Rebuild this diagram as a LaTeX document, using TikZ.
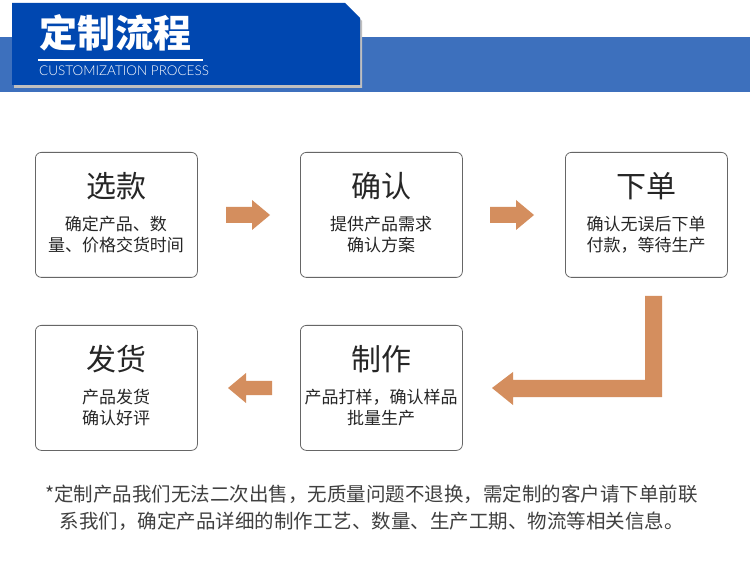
\documentclass[tikz,border=0pt]{standalone}
\usepackage{fontspec}
\setmainfont{Noto Sans CJK SC}
\newfontfamily\latinf{Lato Light}
\begin{document}
\begin{tikzpicture}[x=1pt,y=-1pt,
 box/.style={draw=black!60,line width=0.8pt,rounded corners=6pt,fill=white,minimum width=162pt,minimum height=125pt,anchor=north west},
 ttl/.style={font=\fontsize{30}{32}\selectfont,text=black!85},
 bdy/.style={font=\fontsize{17}{21}\selectfont,text=black!85,align=center}]
\definecolor{ar}{HTML}{D48E5E}
\definecolor{dblue}{HTML}{0047B0}
\definecolor{lblue}{HTML}{3D70BD}
\useasboundingbox (0,0) rectangle (750,577);
\fill[white] (0,0) rectangle (750,577);
\fill[lblue] (0,37) rectangle (750,92);
\fill[black!25] (14,6) -- (347,6) -- (362,21) -- (362,88) -- (14,88) -- cycle;
\fill[dblue] (12,3) -- (345,3) -- (360,18) -- (360,85) -- (12,85) -- cycle;
\node[anchor=west,text=white,font=\fontsize{38}{40}\selectfont\bfseries,inner sep=0] (t) at (39,33) {定制流程};
\draw[white,line width=1.3pt] (38,60) -- (203,60);
\node[anchor=west,text=white,font=\latinf\fontsize{13.5}{15}\selectfont,inner sep=0] (st) at (39,71) {CUSTOMIZATION PROCESS};
\foreach \n/\x/\y/\a/\b in {b1/35/152/选款/{确定产品、数\\量、价格交货时间},b2/300/152/确认/{提供产品需求\\确认方案},b3/565/152/下单/{确认无误后下单\\付款，等待生产},b4/35/325/发货/{产品发货\\确认好评},b5/300/325/制作/{产品打样，确认样品\\批量生产}}{
 \node[box] (\n) at (\x,\y) {};
 \node[ttl] (\n t) at (\x+81,\y+34) {\a};
 \node[bdy] (\n b) at (\x+81,\y+83) {\b};
}
\fill[ar] (226,207) -- (252,207) -- (252,200) -- (270,215) -- (252,230) -- (252,223) -- (226,223) -- cycle;
\fill[ar] (490,207) -- (516,207) -- (516,200) -- (534,215) -- (516,230) -- (516,223) -- (490,223) -- cycle;
\fill[ar] (272,381) -- (246,381) -- (246,373) -- (228,388) -- (246,403) -- (246,395) -- (272,395) -- cycle;
\fill[ar] (645,296) -- (662,296) -- (662,397) -- (513,397) -- (513,405) -- (492,388) -- (513,372) -- (513,380) -- (645,380) -- cycle;
\node[font=\fontsize{19.5}{27}\selectfont,text=black!75,align=left,anchor=north west,inner sep=0] (fn) at (45,485) {*定制产品我们无法二次出售，无质量问题不退换，需定制的客户请下单前联\\\hspace*{0.75em}系我们，确定产品详细的制作工艺、数量、生产工期、物流等相关信息。};
\end{tikzpicture}
\end{document}
